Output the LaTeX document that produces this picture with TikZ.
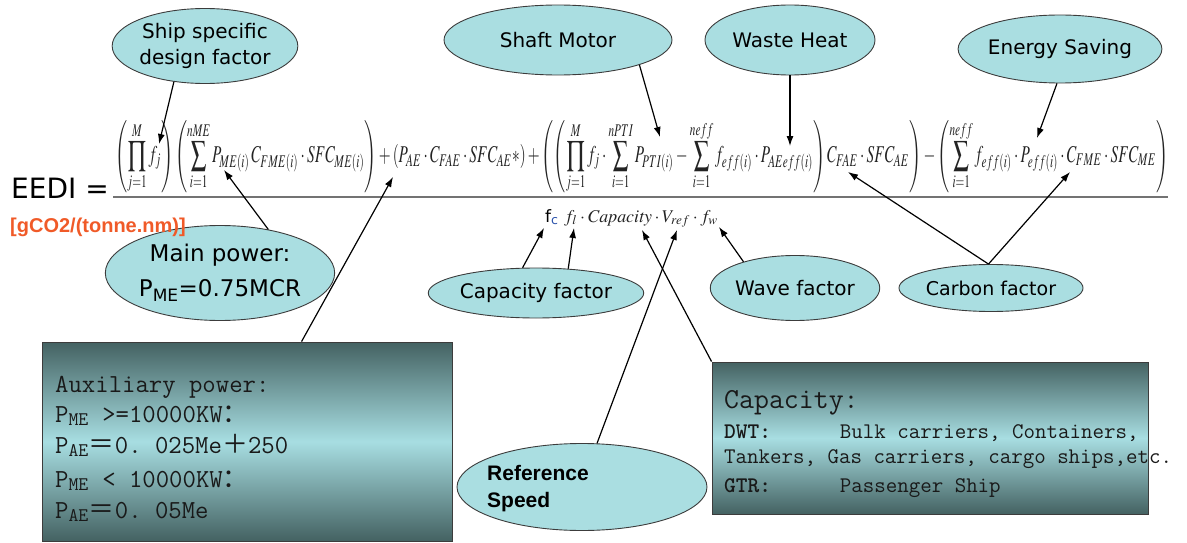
\documentclass[tikz,border=0pt]{standalone}
\usepackage{mathptmx}
\usepackage{fontspec}
\newfontfamily\dv{DejaVu Sans}
\newfontfamily\ls{Liberation Sans}
\newfontfamily\cjk{Noto Sans CJK SC}
\usetikzlibrary{arrows.meta,calc,shapes.geometric}
\definecolor{ellfill}{RGB}{170,222,225}
\definecolor{ellline}{RGB}{60,60,60}
\definecolor{boxdark}{RGB}{68,98,98}
\definecolor{boxlight}{RGB}{168,222,226}
\definecolor{unitred}{RGB}{240,90,40}
\definecolor{formula}{RGB}{35,35,35}
\definecolor{fcblue}{RGB}{40,80,170}
\begin{document}
\begin{tikzpicture}[x=1pt,y=-1pt,
  oval/.style={ellipse, draw=ellline, line width=0.9pt, fill=ellfill, inner sep=0pt,
    font=\dv\fontsize{20}{26}\selectfont, align=center},
  gradbox/.style={draw=ellline, line width=0.9pt, inner sep=0pt,
    top color=boxdark, bottom color=boxdark, middle color=boxlight},
  arr/.style={-{Latex[length=10pt,width=7pt]}, line width=1.2pt, black},
  auxline/.style={anchor=base west, inner sep=0pt, text=black!90,
    font=\ttfamily\fontsize{26}{30}\selectfont},
  capline/.style={anchor=base west, inner sep=0pt, text=black!90,
    font=\ttfamily\fontsize{22.3}{26}\selectfont},
]
\useasboundingbox (0,0) rectangle (1187,543);

% ---------- formula ----------
\node[anchor=base west, inner sep=0pt, font=\dv\fontsize{28}{32}\selectfont] (eedi) at (11,198) {EEDI =};
\node[anchor=north west, inner sep=0pt, text=formula] (num) at (115,120)
 {\resizebox*{1053pt}{73pt}{$\displaystyle
 \left(\prod_{j=1}^{M} f_j\right)\left(\sum_{i=1}^{nME} P_{ME(i)}\, C_{FME(i)}\cdot SFC_{ME(i)}\right)
 +\left(P_{AE}\cdot C_{FAE}\cdot SFC_{AE}{*}\right)
 +\left(\left(\prod_{j=1}^{M} f_j\cdot\sum_{i=1}^{nPTI} P_{PTI(i)}-\sum_{i=1}^{neff} f_{eff(i)}\cdot P_{AEeff(i)}\right)C_{FAE}\cdot SFC_{AE}\right)
 -\left(\sum_{i=1}^{neff} f_{eff(i)}\cdot P_{eff(i)}\cdot C_{FME}\cdot SFC_{ME}\right)$}};
\draw[line width=1.8pt, black!55] (113,197) -- (1168,197);
\node[anchor=base west, inner sep=0pt, font=\dv\fontsize{17}{20}\selectfont] (fc) at (545,222) {f\textsubscript{\color{fcblue}c}};
\node[anchor=base west, inner sep=0pt, text=formula] (den) at (564,222)
 {\resizebox{154pt}{!}{$f_{l}\cdot \mathit{Capacity}\cdot V_{ref}\cdot f_{w}$}};

% ---------- boxes ----------
\node[gradbox, minimum width=410pt, minimum height=199pt] (aux) at (247,441.5) {};
\node[auxline] (a1) at (55,392) {Auxiliary power:};
\node[auxline] (a2) at (55,422) {P\textsubscript{ME} >=10000KW{\cjk ：}};
\node[auxline] (a3) at (55,453) {P\textsubscript{AE}{\cjk ＝}0.\ 025Me{\cjk ＋}250};
\node[auxline] (a4) at (55,487) {P\textsubscript{ME} < 10000KW{\cjk ：}};
\node[auxline] (a5) at (55,518) {P\textsubscript{AE}{\cjk ＝}0.\ 05Me};

\node[gradbox, minimum width=436pt, minimum height=152pt] (capbox) at (930,438) {};
\node[capline, font=\ttfamily\fontsize{29}{32}\selectfont] (c1) at (724,408) {Capacity:};
\node[capline] (c2) at (724,438) {\textbf{DWT:}\ \ \ \ \ \ Bulk carriers, Containers,};
\node[capline] (c3) at (724,463) {Tankers, Gas carriers, cargo ships,etc.};
\node[capline] (c4) at (724,492) {\textbf{GTR:}\ \ \ \ \ \ Passenger Ship};

% ---------- ellipses ----------
\node[oval, minimum width=156pt, minimum height=75pt] (ship) at (205,46) {Ship specific\\design factor};
\node[oval, minimum width=228pt, minimum height=70pt] (shaft) at (558,40) {Shaft Motor};
\node[oval, minimum width=170pt, minimum height=70pt] (waste) at (790,40) {Waste Heat};
\node[oval, minimum width=180pt, minimum height=68pt] (energy) at (1060,49) {Energy Saving};
\node[oval, minimum width=210pt, minimum height=95pt, font=\dv\fontsize{23}{35}\selectfont] (mainp) at (220,273) {Main power:\\P\textsubscript{ME}=0.75MCR};
\node[oval, minimum width=168pt, minimum height=50pt] (capf) at (536,293) {Capacity factor};
\node[oval, minimum width=155pt, minimum height=65pt] (wave) at (795,288) {Wave factor};
\node[oval, minimum width=174pt, minimum height=47pt, font=\dv\fontsize{19}{24}\selectfont] (carbon) at (991,288) {Carbon factor};
\node[oval, minimum width=250pt, minimum height=87pt] (ref) at (582,487) {};
\node[anchor=base west, inner sep=0pt, font=\ls\bfseries\fontsize{21}{27}\selectfont] (reftext) at (487,480) {Reference};
\node[anchor=base west, inner sep=0pt, font=\ls\bfseries\fontsize{21}{27}\selectfont] (reftext2) at (487,507) {Speed};

\node[anchor=base west, inner sep=0pt, text=unitred, font=\ls\bfseries\fontsize{20}{24}\selectfont] (unit) at (10,232) {[gCO2/(tonne.nm)]};

% ---------- arrow tips ----------
\coordinate (tShip) at (159,144);
\coordinate (tMain) at (224,170);
\coordinate (tAux) at (393,177);
\coordinate (tShaft) at (660,137);
\coordinate (tWaste) at (790,146);
\coordinate (tEnergy) at (1037,138);
\coordinate (tCarb1) at (848,172);
\coordinate (tCarb2) at (1070,172);
\coordinate (tCf1) at (544,228);
\coordinate (tCf2) at (574,228);
\coordinate (tWave) at (719,227);
\coordinate (tRef) at (677,230);
\coordinate (tCap) at (642,230);

% ---------- connectors ----------
\draw[arr] (ship.229) -- (tShip);
\draw[arr] (mainp.42) -- (tMain);
\draw[arr] ([xshift=260pt]aux.north west) -- (tAux);
\draw[arr] (shaft.-17) -- (tShaft);
\draw[arr] (waste.south) -- (tWaste);
\draw[arr] (energy.-95) -- (tEnergy);
\draw[arr] (carbon.96) -- (tCarb1);
\draw[arr] (carbon.96) -- (tCarb2);
\draw[arr] (capf.118) -- (tCf1);
\draw[arr] (capf.37) -- (tCf2);
\draw[arr] (wave.153) -- (tWave);
\draw[arr] (ref.71) -- (tRef);
\draw[arr] (capbox.north west) -- (tCap);
\end{tikzpicture}
\end{document}
